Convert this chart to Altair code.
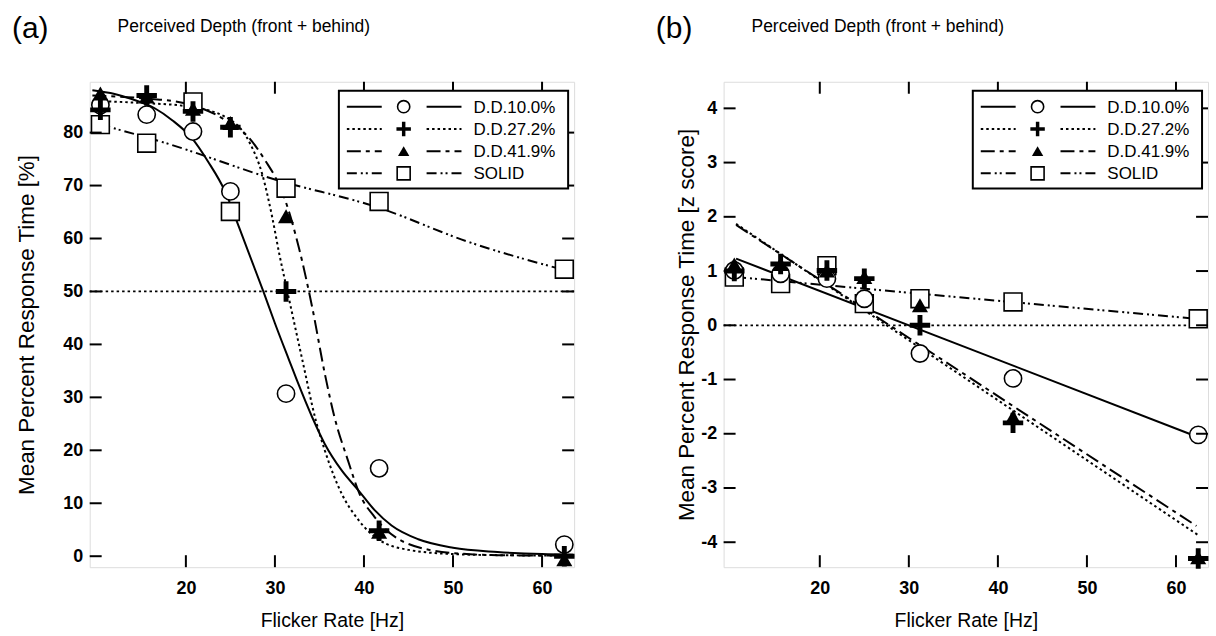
import altair as alt
import pandas as pd

FONT = "Liberation Sans"

# ---------------- data ----------------
flicker_hz = [10.4, 15.6, 20.8, 25.0, 31.25, 41.7, 62.5]
series_names = ["D.D.10.0%", "D.D.27.2%", "D.D.41.9%", "SOLID"]

# panel (a): mean percent response time [%]
a_circle = [85.2, 83.4, 80.2, 68.9, 30.7, 16.6, 2.2]
a_plus = [84.3, 87.0, 84.0, 81.0, 50.0, 4.8, 0.0]
a_triangle = [87.4, 86.8, 84.5, 81.8, 64.2, 4.6, -0.6]
a_square = [81.5, 78.0, 85.8, 65.1, 69.5, 67.0, 54.2]

# panel (a): fitted curves
a_fit_solid_x = [9.5, 12, 14, 16.5, 18.5, 20.7, 22.5, 24.4, 26, 28.7, 30, 31.6, 32.5,
                 34.2, 35.6, 37.5, 39.4, 41.2, 43.1, 46.1, 50, 55, 60, 63.5]
a_fit_solid_y = [88, 87.3, 86.3, 84.6, 82.3, 78.9, 74.5, 68.9, 62, 50, 44, 37, 33.1,
                 26.2, 21.2, 16.2, 12.4, 8.7, 5.8, 3.2, 1.6, 0.8, 0.4, 0.3]
a_fit_dot_x = [9.5, 15, 20, 24.4, 27.1, 28.6, 29.7, 30.5, 31.4, 33.1, 34.6, 35.6,
               37.5, 39.4, 41.6, 45, 50, 55, 63.5]
a_fit_dot_y = [86, 85.6, 85, 83, 78.3, 72, 64, 57, 50, 36.9, 25.6, 20,
               11.8, 6.8, 3.2, 1.2, 0.4, 0.2, 0.1]
a_fit_dash_x = [9.5, 15, 20, 24.4, 27.1, 29, 30.1, 31.2, 32.7, 34.2, 35.6, 36.7,
                38.2, 39.5, 41.2, 44.6, 50, 55, 63.5]
a_fit_dash_y = [87, 86.5, 85.5, 82.4, 79, 74.5, 71.4, 67, 58.2, 46.9, 34.5, 26.2,
                18.1, 11.8, 7.4, 2.6, 0.6, 0.2, 0.1]
a_fit_dashdot_x = [10.4, 17.2, 30.1, 41.7, 51.5, 63.5]
a_fit_dashdot_y = [81.5, 78.3, 71.1, 65.8, 59.5, 53.6]

# panel (b): mean percent response time [z score]
b_circle = [1.01, 0.95, 0.86, 0.49, -0.52, -0.98, -2.02]
b_plus = [1.0, 1.13, 1.01, 0.86, 0.0, -1.8, -4.3]
b_triangle = [1.12, 1.13, 1.01, 0.89, 0.37, -1.69, -4.28]
b_square = [0.89, 0.77, 1.1, 0.4, 0.49, 0.43, 0.12]

# panel (b): fitted lines
b_fit_solid_x = [10.6, 62.3]
b_fit_solid_y = [1.23, -2.05]
b_fit_dot_x = [10.6, 62.5]
b_fit_dot_y = [1.87, -3.87]
b_fit_dash_x = [10.6, 62.3]
b_fit_dash_y = [1.85, -3.70]
b_fit_dashdot_x = [10.6, 62.3]
b_fit_dashdot_y = [0.89, 0.12]

x_ticks = [20, 30, 40, 50, 60]
a_y_ticks = [0, 10, 20, 30, 40, 50, 60, 70, 80]
b_y_ticks = [-4, -3, -2, -1, 0, 1, 2, 3, 4]
a_reference = [50]
b_reference = [0]

panel_labels = ["(a)", "(b)"]
panel_titles = ["Perceived Depth (front + behind)", "Perceived Depth (front + behind)"]
y_titles = ["Mean Percent Response Time [%]", "Mean Percent Response Time [z score]"]
x_title = "Flicker Rate [Hz]"

# ---------------- styling ----------------
W, H = 486, 487
X_DOMAIN = [9.2, 63.6]
PLUS_PATH = "M-1,-0.24H1V0.24H-1Z M-0.24,-1H0.24V1H-0.24Z"
DASHES = {
    "D.D.10.0%": None,
    "D.D.27.2%": [2.5, 3],
    "D.D.41.9%": [14, 5, 4, 5],
    "SOLID": [10, 4, 2, 3, 2, 4],
}
MARKERS = {
    "D.D.10.0%": dict(shape="circle", filled=True, fill="white", stroke="black", strokeWidth=1.6),
    "D.D.27.2%": dict(shape=PLUS_PATH, filled=True, fill="black", strokeWidth=0),
    "D.D.41.9%": dict(shape="triangle-up", filled=True, fill="black", strokeWidth=0),
    "SOLID": dict(shape="square", filled=True, fill="white", stroke="black", strokeWidth=1.6),
}
MARKER_SIZE = {"D.D.10.0%": 300, "D.D.27.2%": 420, "D.D.41.9%": 260, "SOLID": 320}
LEGEND_SIZE = {"D.D.10.0%": 150, "D.D.27.2%": 210, "D.D.41.9%": 130, "SOLID": 170}
Y_TITLE_PAD = [24, 2]
LABEL_X = [-78, -68]


def build_panel(idx, points, fits, reference, y_domain, y_ticks):
    xs = alt.Scale(domain=X_DOMAIN, nice=False, zero=False)
    ys = alt.Scale(domain=y_domain, nice=False, zero=False)
    xaxis = alt.Axis(values=x_ticks, ticks=False, tickSize=0, domain=False, grid=False,
                     labelFontSize=18, labelFontWeight="bold", labelPadding=12,
                     labelFont=FONT, labelColor="black", titleFont=FONT,
                     titleFontSize=19.5, titleFontWeight="normal", titleColor="black",
                     titlePadding=15, labelExpr="toString(datum.value)")
    yaxis = alt.Axis(values=y_ticks, ticks=False, tickSize=0, domain=False, grid=False,
                     labelFontSize=18, labelFontWeight="bold", labelPadding=7,
                     labelFont=FONT, labelColor="black", titleFont=FONT,
                     titleFontSize=22.5, titleFontWeight="normal", titleColor="black",
                     titlePadding=Y_TITLE_PAD[idx], labelExpr="toString(datum.value)")

    def X(f="x"):
        return alt.X(f"{f}:Q", scale=xs, axis=xaxis, title=x_title)

    def Y(f="y"):
        return alt.Y(f"{f}:Q", scale=ys, axis=yaxis, title=y_titles[idx])

    layers = []
    # reference line
    layers.append(
        alt.Chart(pd.DataFrame({"y": reference})).mark_rule(
            color="black", strokeWidth=1.8, strokeDash=[2.5, 3]).encode(y=Y())
    )
    # fitted curves
    for name, (fx, fy) in zip(series_names, fits):
        df = pd.DataFrame({"x": fx, "y": fy})
        kw = {} if DASHES[name] is None else {"strokeDash": DASHES[name]}
        layers.append(alt.Chart(df).mark_line(color="black", strokeWidth=2,
                                              interpolate="monotone", **kw).encode(x=X(), y=Y()))
    # observed points, squares first then circles, triangles, plus
    for name in ["SOLID", "D.D.10.0%", "D.D.41.9%", "D.D.27.2%"]:
        vals = points[series_names.index(name)]
        df = pd.DataFrame({"x": flicker_hz, "y": vals})
        layers.append(alt.Chart(df).mark_point(size=MARKER_SIZE[name], opacity=1,
                                               **MARKERS[name]).encode(x=X(), y=Y()))
    # inward tick marks
    xt = pd.DataFrame({"x": x_ticks})
    layers.append(alt.Chart(xt).mark_rule(color="black", strokeWidth=2).encode(
        x=X(), y=alt.value(H), y2=alt.value(H - 12)))
    layers.append(alt.Chart(xt).mark_rule(color="black", strokeWidth=2).encode(
        x=X(), y=alt.value(0), y2=alt.value(12)))
    yt = pd.DataFrame({"y": y_ticks})
    layers.append(alt.Chart(yt).mark_rule(color="black", strokeWidth=2).encode(
        y=Y(), x=alt.value(0), x2=alt.value(12)))
    layers.append(alt.Chart(yt).mark_rule(color="black", strokeWidth=2).encode(
        y=Y(), x=alt.value(W), x2=alt.value(W - 12)))

    # legend
    one = pd.DataFrame({"k": [0]})
    layers.append(alt.Chart(one).mark_rect(fill="white", stroke="black", strokeWidth=2).encode(
        x=alt.value(250), x2=alt.value(480), y=alt.value(9), y2=alt.value(107)))
    for r, name in enumerate(series_names):
        ry = 25 + r * 22.3
        for (x1, x2) in [(258, 293), (338, 373)]:
            kw = {} if DASHES[name] is None else {"strokeDash": DASHES[name]}
            layers.append(alt.Chart(one).mark_rule(color="black", strokeWidth=2, **kw).encode(
                x=alt.value(x1), x2=alt.value(x2), y=alt.value(ry)))
        layers.append(alt.Chart(one).mark_point(size=LEGEND_SIZE[name], opacity=1,
                                                **MARKERS[name]).encode(
            x=alt.value(315), y=alt.value(ry)))
        layers.append(alt.Chart(pd.DataFrame({"t": [name]})).mark_text(
            align="left", baseline="middle", font=FONT, fontSize=17, color="black").encode(
            x=alt.value(385), y=alt.value(ry + 1), text="t:N"))

    # panel label and title
    layers.append(alt.Chart(pd.DataFrame({"t": [panel_labels[idx]]})).mark_text(
        align="left", baseline="middle", font=FONT, fontSize=30, color="black").encode(
        x=alt.value(LABEL_X[idx]), y=alt.value(-53), text="t:N"))
    layers.append(alt.Chart(pd.DataFrame({"t": [panel_titles[idx]]})).mark_text(
        align="left", baseline="middle", font=FONT, fontSize=17.5, color="black").encode(
        x=alt.value(28), y=alt.value(-55), text="t:N"))

    return alt.layer(*layers).properties(width=W, height=H)


pa = build_panel(0, [a_circle, a_plus, a_triangle, a_square],
                 [(a_fit_solid_x, a_fit_solid_y), (a_fit_dot_x, a_fit_dot_y),
                  (a_fit_dash_x, a_fit_dash_y), (a_fit_dashdot_x, a_fit_dashdot_y)],
                 a_reference, [-2.07, 89.6], a_y_ticks)
pb = build_panel(1, [b_circle, b_plus, b_triangle, b_square],
                 [(b_fit_solid_x, b_fit_solid_y), (b_fit_dot_x, b_fit_dot_y),
                  (b_fit_dash_x, b_fit_dash_y), (b_fit_dashdot_x, b_fit_dashdot_y)],
                 b_reference, [-4.46, 4.49], b_y_ticks)

chart = alt.hconcat(pa, pb, spacing=77).configure_view(
    stroke="black", strokeWidth=2).configure(
    font=FONT, padding={"left": 11, "top": 12, "right": 5, "bottom": 0}, background="white")

chart.save("out.html", embed_options={"renderer": "svg", "actions": False})
